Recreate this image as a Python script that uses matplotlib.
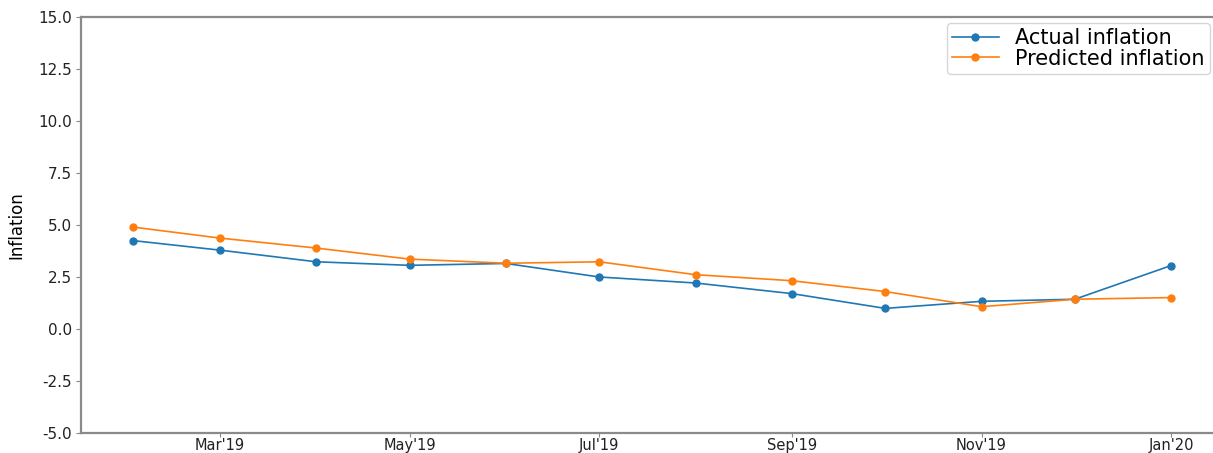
import matplotlib
matplotlib.use("Agg")
import matplotlib.pyplot as plt
import matplotlib.dates as mdates
import matplotlib.ticker as mticker
import pandas as pd

# Monthly inflation, Feb 2019 - Jan 2020
months = pd.date_range("2019-02-01", "2020-01-01", freq="MS")
actual = [4.25, 3.79, 3.23, 3.06, 3.15, 2.50, 2.21, 1.70, 0.99, 1.33, 1.43, 3.05]
predicted = [4.90, 4.37, 3.89, 3.36, 3.16, 3.23, 2.61, 2.32, 1.80, 1.07, 1.43, 1.51]
series_labels = ["Actual inflation", "Predicted inflation"]
y_limits = (-5, 15)
y_ticks = [-5, -2.5, 0, 2.5, 5, 7.5, 10, 12.5, 15]

fig = plt.figure(figsize=(12.13, 4.53), dpi=100)
# the axes run slightly past the right edge of the canvas
ax = fig.add_axes([0.0668, 0.0442, 0.9415, 0.9183])

ax.plot(months, actual, color="#1f77b4", marker="o", markersize=5,
        linewidth=1.2, label=series_labels[0])
ax.plot(months, predicted, color="#ff7f0e", marker="o", markersize=5,
        linewidth=1.2, label=series_labels[1])

ax.set_ylim(*y_limits)
ax.set_yticks(y_ticks)
ax.yaxis.set_major_formatter(mticker.FormatStrFormatter("%.1f"))
ax.xaxis.set_major_locator(mdates.MonthLocator(bymonth=[1, 3, 5, 7, 9, 11]))
ax.xaxis.set_major_formatter(mdates.DateFormatter("%b'%y"))

ax.tick_params(axis="y", labelsize=11, colors="#8a8a8a", labelcolor="#222222",
               length=3.5, pad=3)
ax.tick_params(axis="x", labelsize=10.5, colors="#8a8a8a", labelcolor="#222222",
               length=3, pad=0.5)

ax.set_ylabel("Inflation", fontsize=12, labelpad=9)

for sp in ax.spines.values():
    sp.set_color("#8a8a8a")
    sp.set_linewidth(1.6)

ax.legend(loc="upper right", bbox_to_anchor=(1210 / 1213, 1 - 23 / 453),
          bbox_transform=fig.transFigure, borderaxespad=0,
          fontsize=15, frameon=True, handlelength=2.25,
          labelspacing=0.02, borderpad=0.25, handletextpad=0.8)

fig.savefig("out.png", dpi=100)
